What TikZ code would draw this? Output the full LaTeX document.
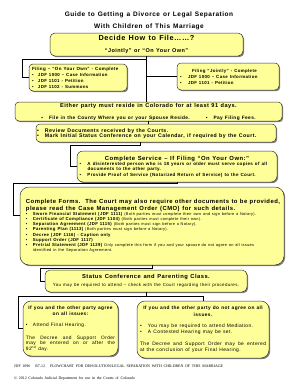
\documentclass[tikz,border=0pt]{standalone}
\usepackage{fontspec}
\setmainfont[LetterSpace=8]{Liberation Sans}
\newfontfamily\footfont{Liberation Serif}
\usetikzlibrary{shadows,calc}
\definecolor{boxyellow}{HTML}{FFFF99}
\newcommand\myfs[2]{\fontsize{#1pt}{#2pt}\selectfont\spaceskip=.45em\xspaceskip=\spaceskip}
\newcommand\myfsj[2]{\fontsize{#1pt}{#2pt}\selectfont\spaceskip=.45em plus .4em minus .05em\xspaceskip=\spaceskip}
\newcommand\bitem[2][6]{\par\noindent\hangindent=#1pt\hangafter=1\makebox[#1pt][l]{•}#2}
\newcommand\smallnote[1]{{\mdseries\myfs{3.9}{5}#1}}
\begin{document}
\begin{tikzpicture}[x=1pt,y=-1pt,
  box/.style={draw=black!80, line width=0.5pt, fill=boxyellow, rounded corners=4pt,
    drop shadow={shadow xshift=1.2pt, shadow yshift=-1.2pt, fill=black!50, opacity=1},
    inner sep=0pt, align=justify},
  conn/.style={draw=black, line width=0.9pt},
  every node/.append style={execute at begin node={\parindent=0pt}}]
\useasboundingbox (0,0) rectangle (298,386);

\node[text width=230, align=flush center, inner sep=0pt, font=\bfseries] (title) at (149,20.5)
  {\myfs{6.5}{9}Guide to Getting a Divorce or Legal Separation\\\myfs{6.5}{9}With Children of This Marriage};

\node[box, rounded corners=5pt, minimum width=193, minimum height=23, text width=185, align=flush center, font=\bfseries] (decide) at (146.5,44.5)
  {\myfs{7.3}{9}Decide How to File……?\\\myfs{5.5}{9}“Jointly” or “On Your Own”};

\node[box, minimum width=98, minimum height=27, text width=92, align=flush left, font=\bfseries] (own) at (78,77.5)
  {\myfs{4.5}{6}Filing – “On Your Own” - Complete\par
   \myfs{4.4}{6}\bitem{JDF 1000 – Case Information}\bitem{JDF 1101 - Petition}\bitem{JDF 1102 - Summons}\par};

\node[box, minimum width=102, minimum height=27, text width=96, align=flush left, font=\bfseries] (joint) at (228,76.5)
  {\myfs{4.4}{6}\hspace*{12pt}Filing “Jointly” - Complete\par
   \bitem[8]{JDF 1000 – Case Information}\bitem[8]{JDF 1101 - Petition}\par\vspace*{3pt}};

\node[box, minimum width=267, minimum height=19, text width=262, align=flush center, font=\bfseries] (either) at (148.5,111.5)
  {\myfs{5.6}{7}Either party must reside in Colorado for at least 91 days.\\
   \myfs{4.8}{7}▪\hspace{6pt}File in the County Where you or your Spouse Reside.\hspace{16pt}▪\hspace{6pt}Pay Filing Fees.};

\node[box, minimum width=240, minimum height=18, text width=238, align=flush left, font=\bfseries] (review) at (156,133)
  {\myfs{5.2}{5.4}\bitem[8]{Review Documents received by the Courts.}\bitem[8]{Mark Initial Status Conference on your Calendar, if required by the Court.}\par\vspace*{1pt}};

\node[box, rounded corners=6pt, minimum width=200, minimum height=31, text width=195, align=flush left, font=\bfseries] (service) at (177,166.5)
  {{\centering\myfs{5.9}{7}Complete Service – If Filing “On Your Own:”\par}
   \myfs{4.5}{5.4}\bitem[8]{A disinterested person who is 18 years or older must serve copies of all\newline documents to the other party.}\bitem[8]{Provide Proof of Service (Notarized Return of Service) to the Court.}\par};

\node[box, rounded corners=9pt, minimum width=264, minimum height=78, text width=252] (forms) at (152,226)
  {\bfseries\myfsj{5.9}{6.2}Complete Forms.\ \ The Court may also require other documents to be provided,\linebreak please read the Case Management Order (CMO) for such details.\par
   \raggedright\myfs{4.3}{5.2}%
   \bitem[7]{Sworn Financial Statement (JDF 1111) \smallnote{(Both parties must complete their own and sign before a Notary).}}%
   \bitem[7]{Certificate of Compliance (JDF 1104) \smallnote{(Both parties must complete their own).}}%
   \bitem[7]{Separation Agreement (JDF 1115) \smallnote{(Both parties must sign before a Notary).}}%
   \bitem[7]{Parenting Plan (1113) \smallnote{(Both parties must sign before a Notary).}}%
   \bitem[7]{Decree (JDF 1116) - Caption only}%
   \bitem[7]{Support Order (JDF 1117)}%
   \bitem[7]{Pretrial Statement (JDF 1129) \smallnote{Only complete this form if you and your spouse do not agree on all issues\newline identified in the Separation Agreement.}}\par
   \vspace*{13pt}};

\node[box, rounded corners=5pt, minimum width=202, minimum height=22, text width=198, align=flush center] (status) at (146,281)
  {\bfseries\myfs{5.8}{7}Status Conference and Parenting Class.\\
   \mdseries\myfs{4.4}{7.3}You may be required to attend – check with the Court regarding their procedures.\par\vspace*{4pt}};

\node[box, rounded corners=8pt, minimum width=95, minimum height=55, text width=89] (agree) at (70.5,328.5)
  {{\centering\bfseries\myfs{4.8}{6.7}If you and the other party agree\\on all issues:\par}
   {\raggedright\myfs{4.8}{11}\bitem[7]{Attend Final Hearing.}\par}
   \vspace*{6.8pt}
   \myfsj{4.8}{5.6}The Decree and Support Order\linebreak may be entered on or after the\linebreak 92\textsuperscript{nd} day.\par};

\node[box, rounded corners=8pt, minimum width=132, minimum height=57, text width=126] (disagree) at (203,329.5)
  {{\centering\bfseries\myfs{4.8}{6.7}If you and the other party do not agree on all\\issues.\par}
   {\raggedright\myfs{4.9}{11.5}\bitem[8]{You may be required to attend Mediation.}\par
   \myfs{4.9}{6}\bitem[8]{A Contested Hearing may be set.}\par}
   \vspace*{5.3pt}
   \myfsj{4.9}{6.3}The Decree and Support Order may be entered\linebreak at the conclusion of your Final Hearing.\par};

\node[anchor=west, text width=270, align=flush left, inner sep=0pt, font=\footfont] (footer) at (14,372.4)
  {\myfs{3.9}{6.7}JDF 1096\hspace{5pt}R7-12\hspace{5pt}FLOWCHART FOR DISSOLUTION/LEGAL SEPARATION WITH CHILDREN OF THIS MARRIAGE\\
   \myfs{3.9}{6.7}© 2012 Colorado Judicial Department for use in the Courts of Colorado};

% connectors
\draw[conn] (decide.south) -- (decide.south |- either.north);
\coordinate (j1) at ($(decide.south)+(0,3)$);
\draw[conn] (j1) -| ([xshift=-6pt]own.west) -- (own.west);
\draw[conn] (decide.south |- joint.west) -- (joint.west);
\draw[conn] (either.south) -- (either.south |- review.north);
\coordinate (r1) at ([xshift=-16pt]review.south);
\draw[conn] (r1) -- ++(0,3) -| ([xshift=-6pt]service.west) -- (service.west);
\draw[conn] (service.south) -- ++(0,1.5) -| ([xshift=-6pt,yshift=11pt]forms.west) -- ([yshift=11pt]forms.west);
\draw[conn] (forms.south) -- ++(0,3) -| ([xshift=-4pt]status.west) -- (status.west);
\coordinate (s1) at ($(status.south)+(0,4)$);
\draw[conn] (status.south) -- (s1) -| ([xshift=-4pt]agree.west) -- (agree.west);
\draw[conn] (s1) -| (disagree.north);
\end{tikzpicture}
\end{document}
